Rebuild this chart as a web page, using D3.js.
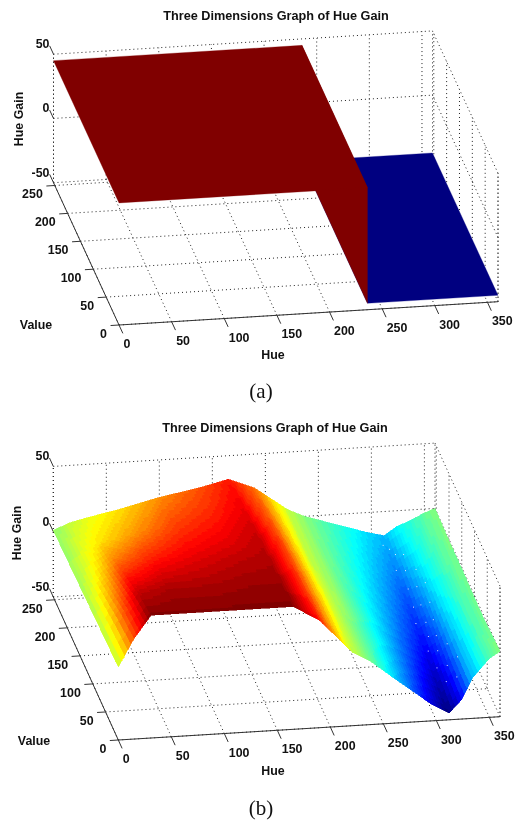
<!DOCTYPE html>
<html>
<head>
<meta charset="utf-8">
<script src="https://cdn.jsdelivr.net/npm/d3@7"></script>
<style>
html, body { margin: 0; padding: 0; background: #fff; }
svg { display: block; filter: blur(0.35px); }
text { font-family: "Liberation Sans", Arial, sans-serif; font-weight: bold; font-size: 12.4px; fill: #111; }
.title { font-size: 12.7px; }
.caption { font-family: "Liberation Serif", serif; font-weight: normal; font-size: 21px; }
.grid { stroke: #222; stroke-width: 1; stroke-dasharray: 1 3; fill: none; }
.axis { stroke: #333; stroke-width: 1; fill: none; }
</style>
</head>
<body>
<svg id="chart" width="519" height="822"></svg>
<script>
let width = 519, height = 822;

const TITLE = "Three Dimensions Graph of Hue Gain";
const hueTicks = [0, 50, 100, 150, 200, 250, 300, 350];
const valueTicks = [0, 50, 100, 150, 200, 250];
const gainTicks = [-50, 0, 50];
const hueMax = 360, valueMax = 255;

// (a) step surface
const hueA = [0, 236, 236, 360];
const valueA = [255, 0];
const gainA = [
    [45, 45, -45, -45],
    [45, 45, -45, -45]
];

// (b) measured surface, one row per value
const hueB = [0, 15, 31, 62, 98, 139, 165, 190, 221, 237, 264, 295, 312, 324, 334, 350, 360];
const valueB = [255, 200, 150, 100, 50, 0];
const gainB = [
    [1, 6, 9, 14, 21, 27, 32, 24, 6, 0, -7, -15, -18.5, -12, -9, -3, 0],
    [2, 9, 14, 20, 27, 31, 35, 26, 6, 0, -9, -19, -24, -17, -11, -4, -1],
    [3, 12, 22, 28, 32, 35, 38, 28, 6, 0, -11, -23, -29, -22, -14, -5, -1],
    [4, 18, 31, 35, 37, 39, 40, 29, 7, 0, -13, -27, -34, -27, -17, -6, -2],
    [5, 24, 39, 41, 41, 42, 42, 30, 7, -1, -15, -32, -40, -32, -19, -6, -2],
    [6, 27, 44, 44, 44, 44, 44, 32, 6, -1, -18, -37, -45, -35, -19, -5, 0]
];
// small holes along the trough of (b), [hue, value]
const holesB = [
    [307, 240], [312, 236], [315, 225], [321, 218], [311, 205], [318, 198], [326, 190],
    [315, 175], [322, 170], [329, 166], [314, 150], [320, 146], [327, 140], [311, 128],
    [319, 122], [325, 118], [317, 104], [323, 98], [313, 88], [320, 80], [328, 76],
    [315, 62], [323, 55], [331, 48], [318, 38], [326, 30]
];

const jetStops = ["#000080", "#0000ff", "#00ffff", "#ffff00", "#ff0000", "#800000"];
const jetAt = d3.scaleLinear()
    .domain([0, 0.11, 0.36, 0.63, 0.88, 1])
    .range(jetStops);
const jet64 = d3.range(64).map(i => jetAt(i / 63));
const jetScale = d3.scaleQuantize().domain([-45, 45]).range(jet64);

const svg = d3.select("#chart");

function makePanel(p) {
    const hx = d3.scaleLinear().domain([0, hueMax]).range([0, p.hue[0]]);
    const hy = d3.scaleLinear().domain([0, hueMax]).range([0, p.hue[1]]);
    const vx = d3.scaleLinear().domain([0, valueMax]).range([0, p.value[0]]);
    const vy = d3.scaleLinear().domain([0, valueMax]).range([0, p.value[1]]);
    const gy = d3.scaleLinear().domain([-50, 50]).range([0, -p.gainHeight]);
    p.project = (h, v, g) => [p.x + hx(h) + vx(v), p.y + hy(h) + vy(v) + gy(g)];
    p.g = svg.append("g");
    return p;
}

function line3d(p, cls, a, b) {
    const s = p.project(...a), e = p.project(...b);
    p.g.append("line").attr("class", cls)
        .attr("x1", s[0]).attr("y1", s[1]).attr("x2", e[0]).attr("y2", e[1]);
}

function renderBox(p) {
    // back wall
    hueTicks.concat([0]).forEach(h => line3d(p, "grid", [h, valueMax, -50], [h, valueMax, 50]));
    gainTicks.forEach(g => line3d(p, "grid", [0, valueMax, g], [hueMax, valueMax, g]));
    // right wall
    valueTicks.forEach(v => line3d(p, "grid", [hueMax, v, -50], [hueMax, v, 50]));
    gainTicks.forEach(g => line3d(p, "grid", [hueMax, 0, g], [hueMax, valueMax, g]));
    line3d(p, "grid", [hueMax, valueMax, -50], [hueMax, valueMax, 50]);
    line3d(p, "grid", [hueMax, 0, -50], [hueMax, 0, 50]);
    // floor
    hueTicks.forEach(h => line3d(p, "grid", [h, 0, -50], [h, valueMax, -50]));
    valueTicks.forEach(v => line3d(p, "grid", [0, v, -50], [hueMax, v, -50]));
}

function renderAxes(p) {
    line3d(p, "axis", [0, 0, -50], [hueMax, 0, -50]);
    line3d(p, "axis", [0, 0, -50], [0, valueMax, -50]);
    hueTicks.forEach(h => {
        line3d(p, "axis", [h, 0, -50], [h, -15, -50]);
        const t = p.project(h, 0, -50);
        p.g.append("text").attr("x", t[0] + 4.5).attr("y", t[1] + 23).text(h);
    });
    valueTicks.forEach(v => {
        line3d(p, "axis", [0, v, -50], [-8, v, -50]);
        const t = p.project(0, v, -50);
        p.g.append("text").attr("x", t[0] - 12).attr("y", t[1] + 13)
            .attr("text-anchor", "end").text(v);
    });
    gainTicks.forEach(g => {
        line3d(p, "axis", [0, valueMax, g], [0, valueMax + 15, g]);
        const t = p.project(0, valueMax, g);
        p.g.append("text").attr("x", t[0] - 4).attr("y", t[1] - 6)
            .attr("text-anchor", "end").text(g);
    });
}

function renderLabels(p) {
    p.g.append("text").attr("class", "title").attr("x", p.titleX).attr("y", p.titleY)
        .attr("text-anchor", "middle").text(TITLE);
    p.g.append("text").attr("x", p.hueLabel[0]).attr("y", p.hueLabel[1])
        .attr("text-anchor", "middle").text("Hue");
    p.g.append("text").attr("x", p.valueLabel[0]).attr("y", p.valueLabel[1])
        .attr("text-anchor", "middle").text("Value");
    p.g.append("text")
        .attr("transform", "translate(" + p.gainLabel[0] + "," + p.gainLabel[1] + ") rotate(-90)")
        .attr("text-anchor", "middle").text("Hue Gain");
    p.g.append("text").attr("class", "caption").attr("x", p.captionX).attr("y", p.captionY)
        .attr("text-anchor", "middle").text(p.caption);
}

// flat shaded like matlab surf, first vertex colour
function renderFlatSurface(p, hues, values, gains) {
    for (let j = hues.length - 2; j >= 0; j--) {
        for (let i = 0; i < values.length - 1; i++) {
            const pts = [
                p.project(hues[j], values[i], gains[i][j]),
                p.project(hues[j + 1], values[i], gains[i][j + 1]),
                p.project(hues[j + 1], values[i + 1], gains[i + 1][j + 1]),
                p.project(hues[j], values[i + 1], gains[i + 1][j])
            ];
            p.g.append("path").attr("d", d3.line()(pts) + "Z")
                .attr("fill", jetScale(gains[i][j])).attr("stroke", jetScale(gains[i][j]))
                .attr("stroke-width", 0.3);
        }
    }
}

// shading interp: every cell is painted in small pieces
function gainLookup(hues, values, gains, h, v) {
    const j = Math.min(d3.bisectRight(hues, h) - 1, hues.length - 2);
    let i = 0;
    while (i < values.length - 2 && values[i + 1] >= v) i++;
    const a = (h - hues[j]) / (hues[j + 1] - hues[j]);
    const b = (values[i] - v) / (values[i] - values[i + 1]);
    const top = gains[i][j] + (gains[i][j + 1] - gains[i][j]) * a;
    const bot = gains[i + 1][j] + (gains[i + 1][j + 1] - gains[i + 1][j]) * a;
    return top + (bot - top) * b;
}

function renderSmoothSurface(p, hues, values, gains) {
    const steps = 10;
    for (let i = 0; i < values.length - 1; i++) {
        for (let si = 0; si < steps; si++) {
            const v0 = values[i] + (values[i + 1] - values[i]) * si / steps;
            const v1 = values[i] + (values[i + 1] - values[i]) * (si + 1) / steps;
            for (let j = 0; j < hues.length - 1; j++) {
                const n = Math.max(2, Math.ceil((hues[j + 1] - hues[j]) / 3));
                for (let sj = 0; sj < n; sj++) {
                    const h0 = hues[j] + (hues[j + 1] - hues[j]) * sj / n;
                    const h1 = hues[j] + (hues[j + 1] - hues[j]) * (sj + 1) / n;
                    const g = (h, v) => gainLookup(hues, values, gains, Math.min(h, hueMax - 0.001), v);
                    const pts = [
                        p.project(h0, v0, g(h0, v0)),
                        p.project(h1, v0, g(h1, v0)),
                        p.project(h1, v1, g(h1, v1)),
                        p.project(h0, v1, g(h0, v1))
                    ];
                    const c = jetScale(g((h0 + h1) / 2, (v0 + v1) / 2));
                    p.g.append("path").attr("d", d3.line()(pts) + "Z")
                        .attr("fill", c).attr("stroke", c).attr("stroke-width", 0.6)
                        .attr("shape-rendering", "crispEdges");
                }
            }
        }
    }
}

function renderHoles(p, hues, values, gains, holes) {
    holes.forEach(d => {
        const t = p.project(d[0], d[1], gainLookup(hues, values, gains, d[0], d[1]));
        p.g.append("rect").attr("x", t[0]).attr("y", t[1]).attr("width", 1).attr("height", 1)
            .attr("fill", "#dfeaff");
    });
}

const panelA = makePanel({
    x: 119, y: 325, hue: [379, -23.3], value: [-65.5, -142.3], gainHeight: 128.5,
    titleX: 276, titleY: 20, hueLabel: [273, 359], valueLabel: [36, 329], gainLabel: [23, 119],
    caption: "(a)", captionX: 261, captionY: 398
});
const panelB = makePanel({
    x: 118.3, y: 740, hue: [381.7, -23.3], value: [-65, -143], gainHeight: 130.6,
    titleX: 275, titleY: 432, hueLabel: [273, 775], valueLabel: [34, 745], gainLabel: [21, 533],
    caption: "(b)", captionX: 261, captionY: 815
});

[panelA, panelB].forEach(p => {
    renderBox(p);
    renderAxes(p);
    renderLabels(p);
});
renderFlatSurface(panelA, hueA, valueA, gainA);
renderSmoothSurface(panelB, hueB, valueB, gainB);
renderHoles(panelB, hueB, valueB, gainB, holesB);
</script>
</body>
</html>
